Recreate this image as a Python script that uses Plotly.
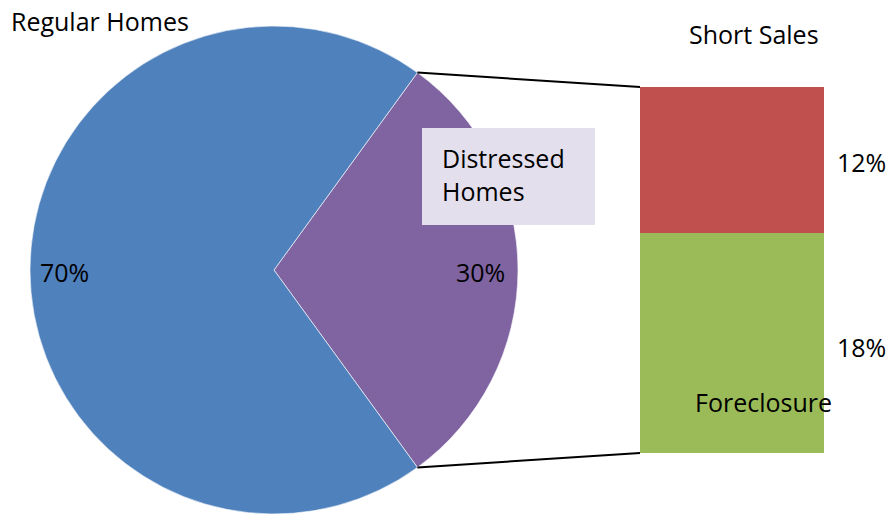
import math
import plotly.graph_objects as go

# Home sales split
pie_labels = ["Distressed Homes", "Regular Homes"]
pie_values = [30, 70]
pie_colors = ["#8064A2", "#4F81BD"]

# Breakdown of distressed homes
bar_labels = ["Foreclosure", "Short Sales"]
bar_values = [18, 12]
bar_colors = ["#9BBB59", "#C0504D"]

W, H = 889, 514
FONT = "Open Sans, sans-serif"
FSIZE = 25

# pie placement (pixels)
cx, cy, R = 274, 270, 244
pie_dom_x = [(cx - R) / W, (cx + R) / W]
pie_dom_y = [(H - (cy + R)) / H, (H - (cy - R)) / H]

# bar placement (pixels)
bx0, bx1, by_top, by_bot = 640, 824, 87, 453
bar_dom_x = [bx0 / W, bx1 / W]
bar_dom_y = [(H - by_bot) / H, (H - by_top) / H]

distressed_share = pie_values[0] / sum(pie_values)
half_angle = math.pi * distressed_share  # half of the distressed wedge
rotation = 90 - math.degrees(half_angle)

fig = go.Figure()
fig.add_trace(go.Pie(
    labels=pie_labels, values=pie_values, sort=False,
    direction="clockwise", rotation=rotation,
    marker=dict(colors=pie_colors, line=dict(color="rgba(255,255,255,0.6)", width=1)),
    textinfo="none", hoverinfo="label+percent", showlegend=False,
    domain=dict(x=pie_dom_x, y=pie_dom_y),
))

for lab, val, col in zip(bar_labels, bar_values, bar_colors):
    fig.add_trace(go.Bar(
        x=[0], y=[val], name=lab, marker=dict(color=col, line=dict(width=0)),
        width=1, showlegend=False, xaxis="x", yaxis="y",
    ))

total_bar = sum(bar_values)


def px_to_paper(px, py):
    return px / W, (H - py) / H


# connector lines from the wedge edges to the bar corners
top_edge = px_to_paper(cx + R * math.cos(half_angle), cy - R * math.sin(half_angle))
bot_edge = px_to_paper(cx + R * math.cos(half_angle), cy + R * math.sin(half_angle))
box_x0, box_y0 = px_to_paper(422, 225)
box_x1, box_y1 = px_to_paper(595, 128)
shapes = [
    dict(type="line", xref="paper", yref="paper",
         x0=top_edge[0], y0=top_edge[1], x1=bar_dom_x[0], y1=bar_dom_y[1],
         line=dict(color="black", width=2)),
    dict(type="line", xref="paper", yref="paper",
         x0=bot_edge[0], y0=bot_edge[1], x1=bar_dom_x[0], y1=bar_dom_y[0],
         line=dict(color="black", width=2)),
    # label box for the distressed wedge
    dict(type="rect", xref="paper", yref="paper",
         x0=box_x0, y0=box_y0, x1=box_x1, y1=box_y1,
         fillcolor="#E4DFEC", line=dict(width=0), layer="above"),
]


def ann(text, x, y, xanchor="center", **kw):
    px, py = px_to_paper(x, y)
    return dict(text=text, x=px, y=py, xref="paper", yref="paper",
                xanchor=xanchor, yanchor="middle", showarrow=False,
                font=dict(family=FONT, size=FSIZE, color="black"), **kw)


annotations = [
    ann(pie_labels[1], 9, 21, xanchor="left"),
    ann(f"{pie_values[1]}%", 64, 272),
    ann(f"{pie_values[0]}%", 480, 272),
    ann("Distressed", 440, 158, xanchor="left"),
    ann("Homes", 440, 191, xanchor="left"),
    ann(bar_labels[1], 754, 34),
    ann(f"{bar_values[1]}%", 861, 162),
    ann(f"{bar_values[0]}%", 861, 347),
    ann(bar_labels[0], 763, 402),
]

fig.update_layout(
    width=W, height=H, margin=dict(l=0, r=0, t=0, b=0),
    paper_bgcolor="white", plot_bgcolor="white",
    barmode="stack", bargap=0,
    xaxis=dict(domain=bar_dom_x, range=[-0.5, 0.5], visible=False, fixedrange=True),
    yaxis=dict(domain=bar_dom_y, range=[0, total_bar], visible=False, fixedrange=True),
    shapes=shapes, annotations=annotations,
)

fig.write_html("out.html")
